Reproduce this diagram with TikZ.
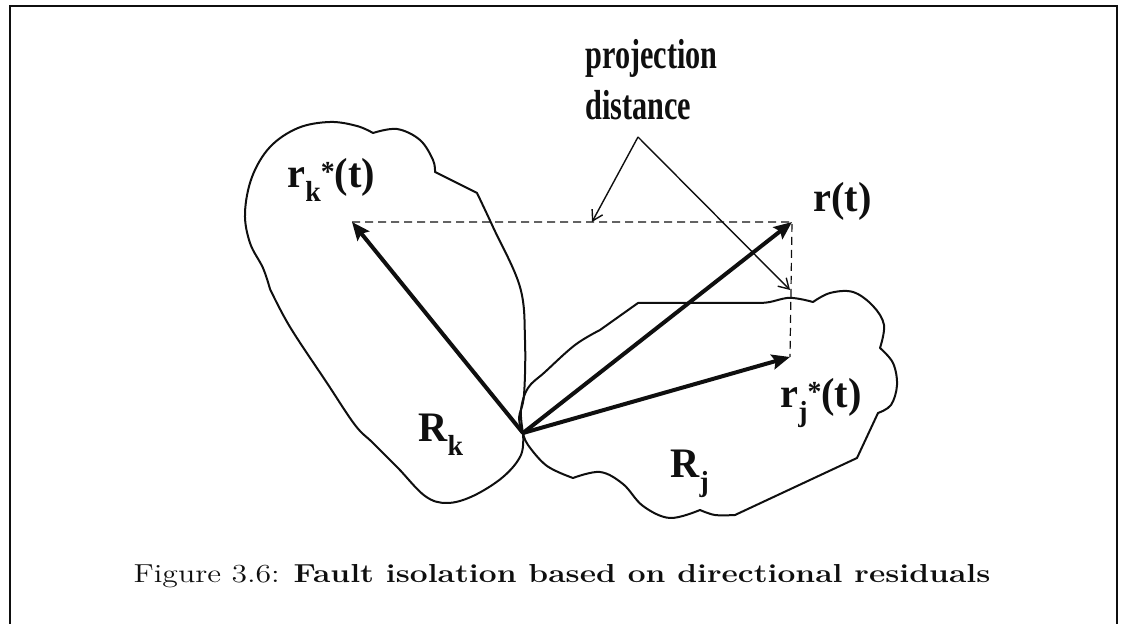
\documentclass[tikz,border=0pt]{standalone}
\usepackage{fontspec}
\usepackage{xcolor}
\usepackage{graphicx}
\usepackage{tikz}
\usetikzlibrary{arrows.meta}
\newfontfamily\lblfont{Liberation Serif}[FakeStretch=0.96]
\newfontfamily\projfont{Liberation Serif}[FakeStretch=0.72]
\definecolor{ink}{RGB}{15,15,15}
\newcommand{\subtxt}[1]{\raisebox{-6.7pt}{\fontsize{14.5}{14.5}\selectfont #1}}
\newcommand{\suptxt}[1]{\raisebox{3pt}{\fontsize{14.5}{14.5}\selectfont #1}}

\begin{document}
\begin{tikzpicture}[x=0.5pt, y=-0.5pt, every node/.style={font=\lblfont\bfseries\fontsize{21}{25}\selectfont, inner sep=0pt, text=ink}]
  \tikzstyle{region}=[draw=ink, line width=1pt, line join=round]
  \tikzstyle{vec}=[draw=ink, line width=2pt, -{Stealth[length=9pt, width=7.5pt, inset=1.5pt]}]
  \tikzstyle{projline}=[draw=ink, line width=0.6pt, dash pattern=on 4pt off 2.5pt]
  \tikzstyle{pointer}=[draw=ink, line width=0.7pt, -{Straight Barb[length=5pt, width=6pt]}]
  \useasboundingbox (0,0) rectangle (1125,624);
  \draw[ink, line width=1pt] (10,624) -- (10,6) -- (1117,6) -- (1117,624);

  \draw[region] plot[smooth, tension=0.6] coordinates {(523,433) (521,455) (503,477) (473,496) (447,503) (425,496) (398,468) (373,443) (355,425) (327,383) (290,327) (270,289)}
    -- plot[smooth, tension=0.6] coordinates {(270,289) (263,268) (250,243) (245,213) (252,177) (270,147) (298,128) (330,122) (357,126) (373,133)}
    -- plot[smooth, tension=0.6] coordinates {(373,133) (397,129) (420,140) (433,160) (435,172)}
    -- (477,193)
    -- plot[smooth, tension=0.6] coordinates {(477,193) (493,227) (520,287) (525,340) (524,395) (519,418) (523,433)};
  \draw[region] plot[smooth, tension=0.6] coordinates {(523,433) (528,445) (547,466) (573,478)}
    -- plot[smooth, tension=0.6] coordinates {(573,478) (600,472) (623,484) (643,506) (670,518) (700,510)}
    -- plot[smooth, tension=0.6] coordinates {(700,510) (715,515) (735,515)}
    -- (857,458) -- (878,413)
    -- plot[smooth, tension=0.6] coordinates {(878,413) (891,405) (897,385) (893,363) (880,348)}
    -- plot[smooth, tension=0.6] coordinates {(880,348) (884,325) (873,306) (853,292) (830,293) (813,302)}
    -- plot[smooth, tension=0.6] coordinates {(813,302) (800,299) (787,298) (770,302) (760,303)}
    -- (638,303) -- (600,330)
    -- plot[smooth, tension=0.6] coordinates {(600,330) (575,345) (545,372) (528,388) (521,410) (523,433)};

  \coordinate (o) at (523,433);
  \coordinate (rk) at (352,222);
  \coordinate (r) at (792,222);
  \coordinate (rj) at (790,357);
  \coordinate (apex) at (638,137);
  \coordinate (hfoot) at (592,222);
  \coordinate (vfoot) at (790,290);

  \draw[projline] (rk) -- (r) -- (rj);
  \draw[vec] (o) -- (rk);
  \draw[vec] (o) -- (r);
  \draw[vec] (o) -- (rj);
  \draw[pointer] (apex) -- (hfoot);
  \draw[pointer] (apex) -- (vfoot);

  \node[anchor=base west] (rklbl) at (287,188) {r\subtxt{k}\suptxt{*}(t)};
  \node[anchor=base west] (rlbl) at (813,212) {r(t)};
  \node[anchor=base west] (rjlbl) at (780,408) {r\subtxt{j}\suptxt{*}(t)};
  \node[anchor=base west] (Rklbl) at (418,442) {R\subtxt{k}};
  \node[anchor=base west] (Rjlbl) at (670,478) {R\subtxt{j}};
  \node[anchor=base west, align=left, font=\projfont\bfseries\fontsize{21}{25.5}\selectfont] (projlbl) at (585,120) {projection\\distance};
  \node[anchor=base, font=\rmfamily\mdseries\fontsize{13}{15}\selectfont] (caption) at (562,583) {\scalebox{1.22}[1]{Figure 3.6: \textbf{Fault isolation based on directional residuals}}};
\end{tikzpicture}
\end{document}
